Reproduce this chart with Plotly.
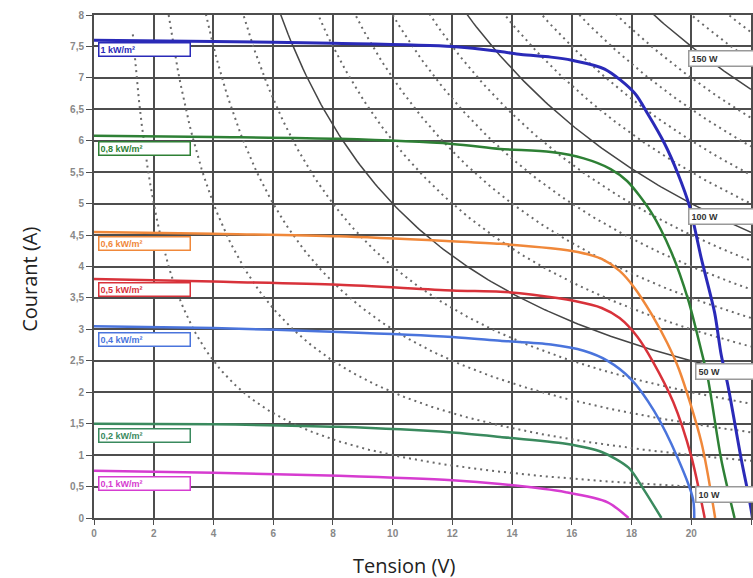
import plotly.graph_objects as go

# --- I-V curves (V, A) ---
v_1000 = [0, 4, 8, 12, 13.6, 14.3, 15.3, 16, 17.1, 18.1, 18.54, 19.1, 19.55, 19.94, 20.34, 20.78, 21.0, 21.23, 21.68, 21.95, 22.05]
i_1000 = [7.6, 7.58, 7.55, 7.5, 7.42, 7.37, 7.33, 7.28, 7.14, 6.76, 6.43, 5.96, 5.48, 4.96, 4.12, 3.27, 2.6, 2.1, 0.92, 0.28, 0]

v_800 = [0, 4, 8.2, 12, 13.6, 15.3, 16.4, 17.3, 17.85, 18.66, 19.33, 19.89, 20.34, 20.56, 21.0, 21.45]
i_800 = [6.08, 6.06, 6.03, 5.95, 5.87, 5.82, 5.72, 5.55, 5.36, 4.86, 4.23, 3.48, 2.65, 2.21, 0.94, 0]

v_600 = [0, 4, 8.2, 12, 13.6, 15.3, 16.2, 17.0, 17.6, 18.1, 18.66, 19.2, 19.6, 20.34, 20.8]
i_600 = [4.55, 4.52, 4.48, 4.4, 4.36, 4.29, 4.23, 4.12, 3.93, 3.66, 3.25, 2.78, 2.35, 1.2, 0]

v_500 = [0, 4, 8.2, 12, 13.6, 14.7, 16.1, 17.0, 17.6, 18.2, 18.7, 19.4, 20.0, 20.45]
i_500 = [3.8, 3.76, 3.71, 3.62, 3.6, 3.55, 3.45, 3.34, 3.18, 2.88, 2.5, 1.84, 0.98, 0]

v_400 = [0, 4, 8.2, 12, 13.6, 15.3, 16.4, 17.2, 17.98, 18.76, 19.56, 20.06, 20.1]
i_400 = [3.05, 3.02, 2.96, 2.88, 2.82, 2.76, 2.66, 2.5, 2.21, 1.7, 0.94, 0.3, 0]

v_200 = [0, 4, 8.2, 12, 13.6, 15.8, 17.0, 17.9, 18.4, 19.0]
i_200 = [1.5, 1.49, 1.45, 1.36, 1.29, 1.18, 1.05, 0.8, 0.46, 0]

v_100 = [0, 4, 8.2, 12, 13.6, 15.8, 17.2, 17.9]
i_100 = [0.75, 0.72, 0.67, 0.6, 0.54, 0.41, 0.25, 0]

curve_labels = ["1 kW/m²", "0,8 kW/m²", "0,6 kW/m²", "0,5 kW/m²", "0,4 kW/m²", "0,2 kW/m²", "0,1 kW/m²"]
label_y = [7.45, 5.88, 4.36, 3.63, 2.84, 1.31, 0.545]

# constant power iso-lines (W)
power_levels = [10, 20, 30, 40, 50, 60, 70, 80, 90, 100, 110, 120, 130, 140, 150, 160, 170]
solid_powers = [50, 100, 150]
power_labels = ["150 W", "100 W", "50 W", "10 W"]
power_label_x = [19.9, 19.9, 20.13, 20.13]
power_label_y = [7.31, 4.79, 2.33, 0.37]

x_ticks = list(range(0, 23, 2))
y_tickvals = [0, 0.5, 1, 1.5, 2, 2.5, 3, 3.5, 4, 4.5, 5, 5.5, 6, 6.5, 7, 7.5, 8]
y_ticktext = ["0", "0,5", "1", "1,5", "2", "2,5", "3", "3,5", "4", "4,5", "5", "5,5", "6", "6,5", "7", "7,5", "8"]

colors = ["#2a2ab8", "#2e8035", "#f0883a", "#d8323a", "#4a74dc", "#3a8a5e", "#d63cd0"]

fig = go.Figure()

# iso-power hyperbolas I = P / V
v_samples = [0.5 + 0.1 * k for k in range(216)]
for p in power_levels:
    xs = [v for v in v_samples if p / v <= 8.3]
    ys = [p / v for v in xs]
    if p in solid_powers:
        line = dict(color="#454545", width=1.5)
    else:
        line = dict(color="#6a6a6a", width=2, dash="2px,4px")
    fig.add_trace(go.Scatter(x=xs, y=ys, mode="lines", line=line, hoverinfo="skip", showlegend=False))

series = [(v_1000, i_1000), (v_800, i_800), (v_600, i_600), (v_500, i_500),
          (v_400, i_400), (v_200, i_200), (v_100, i_100)]
widths = [3, 2.5, 2.5, 2.5, 2.5, 2.5, 2.5]
for (xs, ys), c, w in zip(series, colors, widths):
    fig.add_trace(go.Scatter(x=xs, y=ys, mode="lines", line=dict(color=c, width=w, shape="spline", smoothing=0.8),
                             showlegend=False))

annotations = []
for txt, yy, c in zip(curve_labels, label_y, colors):
    annotations.append(dict(x=0.13, y=yy, xref="x", yref="y", text=txt, showarrow=False,
                            xanchor="left", yanchor="middle", align="left", width=88,
                            font=dict(family="Liberation Sans", size=9, color=c, weight="bold"),
                            bgcolor="white", bordercolor=c, borderwidth=1.5, borderpad=1))
for txt, xx, yy in zip(power_labels, power_label_x, power_label_y):
    annotations.append(dict(x=xx, y=yy, xref="x", yref="y", text=txt, showarrow=False,
                            xanchor="left", yanchor="middle", align="left", width=60,
                            font=dict(family="Liberation Sans", size=9, color="#333", weight="bold"),
                            bgcolor="white", bordercolor="#999", borderwidth=1.5, borderpad=2))

annotations.append(dict(x=0, y=0.4735, xref="paper", yref="paper", text="Courant (A)", textangle=-90,
                        showarrow=False, xanchor="center", yanchor="middle", xshift=-64,
                        font=dict(family="Open Sans", size=20, color="#222")))
annotations.append(dict(x=0.472, y=0, xref="paper", yref="paper", text="Tension (V)",
                        showarrow=False, xanchor="center", yanchor="middle", yshift=-47,
                        font=dict(family="Open Sans", size=20, color="#222")))

fig.update_layout(
    width=753, height=578, autosize=False,
    margin=dict(l=94, r=0, t=15, b=60),
    paper_bgcolor="white", plot_bgcolor="white",
    annotations=annotations,
    xaxis=dict(range=[0, 22], tickvals=x_ticks, showgrid=True, gridcolor="#4d4d4d", gridwidth=2,
               zeroline=False, showline=True, linecolor="#4d4d4d", linewidth=2, mirror=True,
               ticks="outside", ticklen=5, tickcolor="#4d4d4d",
               tickfont=dict(family="Liberation Sans", size=10, color="#888", weight="bold")),
    yaxis=dict(range=[0, 8], tickvals=y_tickvals, ticktext=y_ticktext, showgrid=True, gridcolor="#4d4d4d",
               gridwidth=2, zeroline=False, showline=True, linecolor="#4d4d4d", linewidth=2, mirror=True,
               ticks="outside", ticklen=6, tickcolor="#4d4d4d",
               tickfont=dict(family="Liberation Sans", size=10, color="#888", weight="bold")),
)

fig.write_html("out.html")
